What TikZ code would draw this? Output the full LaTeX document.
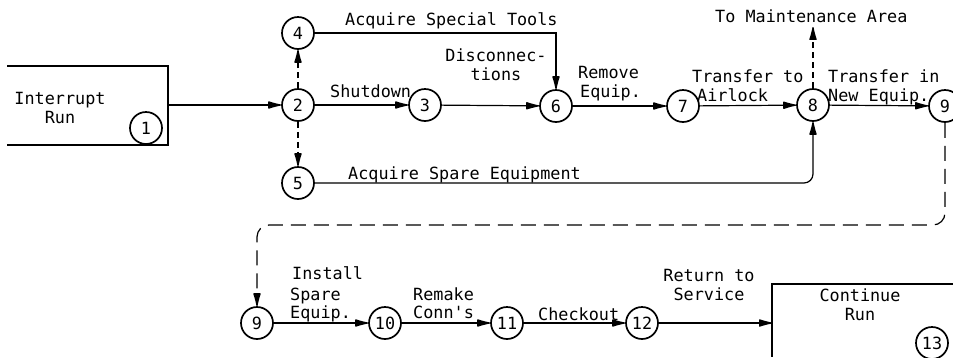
\documentclass[tikz,border=0pt]{standalone}
\usepackage{fontspec}
\newfontfamily\typer{DejaVu Sans Mono}
\usetikzlibrary{arrows.meta}

\begin{document}
\begin{tikzpicture}[
    x=1pt, y=-1pt,
    font=\typer\fontsize{16.8}{19}\selectfont,
    event/.style={circle, draw, line width=1.7pt, minimum size=32pt, inner sep=0pt},
    arr/.style={line width=1.2pt, -{Latex[length=16pt,width=8pt,round]}},
    dashline/.style={dash pattern=on 6pt off 4pt},
    longdash/.style={dash pattern=on 15pt off 8pt},
    lbl/.style={anchor=base west, inner sep=0pt},
    lblc/.style={align=center, inner sep=0pt}
]

    % Frame
    \useasboundingbox (0,0) rectangle (953,357);
    \clip (0,0) rectangle (953,357);

    % Start and end boxes
    \draw[line width=1.2pt] (7,66) -- (168,66) -- (168,145) -- (7,145);
    \draw[line width=1.2pt] (953,284) -- (772,284) -- (772,357);
    \coordinate (b1) at (168,105);   % exit of start box
    \coordinate (b13) at (772,323);  % entry of end box
    \coordinate (maint) at (813,27); % to maintenance area

    % Events
    \node[event] (n1) at (146,128) {1};
    \node[event] (n2) at (298,105) {2};
    \node[event] (n3) at (425,105) {3};
    \node[event] (n4) at (298,33)  {4};
    \node[event] (n5) at (298,183) {5};
    \node[event] (n6) at (556,106) {6};
    \node[event] (n7) at (683,106) {7};
    \node[event] (n8) at (813,105) {8};
    \node[event] (n9a) at (945,106) {9};
    \node[event] (n9b) at (257,323) {9};
    \node[event] (n10) at (385,323) {10};
    \node[event] (n11) at (507,323) {11};
    \node[event] (n12) at (642,323) {12};
    \node[event] (n13) at (932,343) {13};

    % Upper row
    \draw[arr] (b1) -- (n2);
    \draw[arr, dashline] (n2) -- (n4);
    \draw[arr, dashline] (n2) -- (n5);
    \draw[arr] (n2) -- (n3);
    \draw[arr] (n3) -- (n6);
    \draw[arr] (n4.east) -| (n6.north);
    \draw[arr, rounded corners=9pt] (n5.east) -| (n8.south);
    \draw[arr] (n6) -- (n7);
    \draw[arr] (n7) -- (n8);
    \draw[arr, dashline] (n8) -- (maint);
    \draw[arr] (n8) -- (n9a);

    % Link between the rows
    \draw[arr, longdash, rounded corners=12pt]
        (n9a.south) -- (945,225) -- (257,225) -- (n9b.north);

    % Lower row
    \draw[arr] (n9b) -- (n10);
    \draw[arr] (n10) -- (n11);
    \draw[arr] (n11) -- (n12);
    \draw[arr] (n12) -- (b13);

    % Labels
    \node[lblc] at (60,108) {Interrupt\\Run};
    \node[lbl] at (345,25)  {Acquire Special Tools};
    \node[lbl] at (330,97)  {Shutdown};
    \node[lblc, anchor=base] at (496,80) {Disconnec-\\tions};
    \node[lbl] at (578,78)  {Remove};
    \node[lbl] at (580,97)  {Equip.};
    \node[lbl] at (692,82)  {Transfer to};
    \node[lbl] at (697,101) {Airlock};
    \node[lbl] at (828,82)  {Transfer in};
    \node[lbl] at (828,101) {New Equip.};
    \node[lbl] at (715,22)  {To Maintenance Area};
    \node[lbl] at (348,179) {Acquire Spare Equipment};
    \node[lbl] at (292,279) {Install};
    \node[lbl] at (290,300) {Spare};
    \node[lbl] at (290,318) {Equip.};
    \node[lbl] at (413,300) {Remake};
    \node[lbl] at (413,318) {Conn's};
    \node[lbl] at (538,320) {Checkout};
    \node[lblc, anchor=base] at (709,300) {Return to\\Service};
    \node[lblc, anchor=base] at (860,320) {Continue\\Run};

\end{tikzpicture}
\end{document}
